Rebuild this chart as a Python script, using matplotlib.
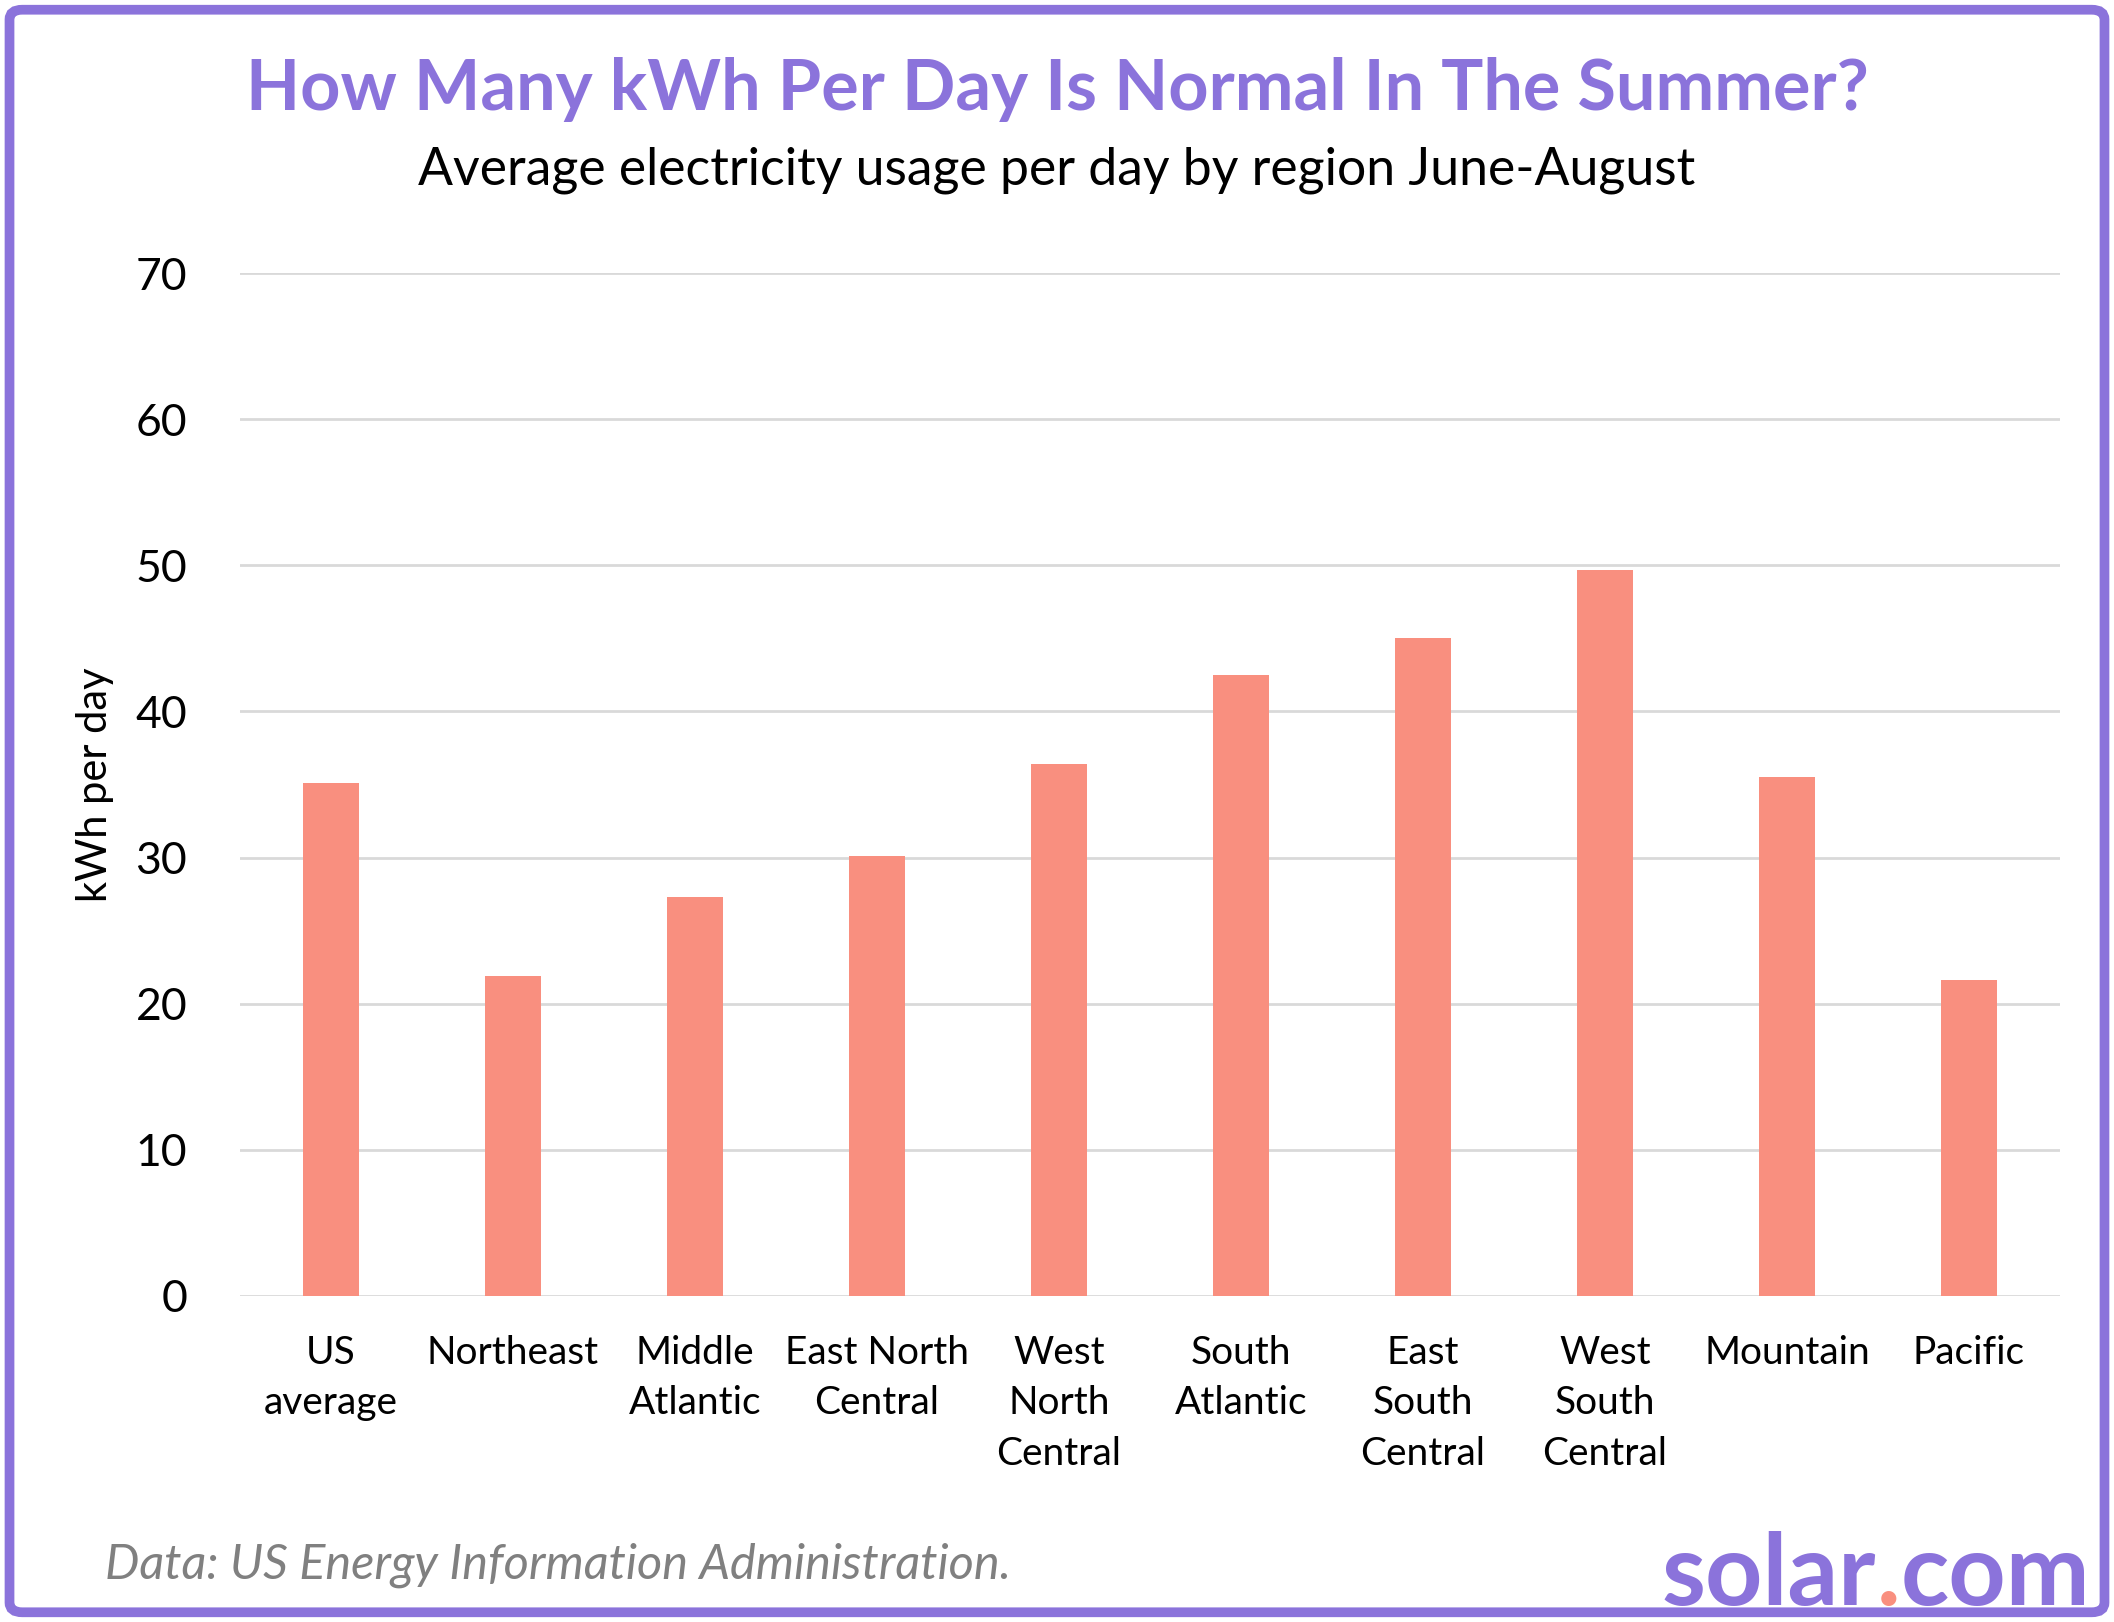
import matplotlib.pyplot as plt
from matplotlib.patches import FancyBboxPatch

# data (kWh per day, June-August)
regions = ["US\naverage", "Northeast", "Middle\nAtlantic", "East North\nCentral",
           "West\nNorth\nCentral", "South\nAtlantic", "East\nSouth\nCentral",
           "West\nSouth\nCentral", "Mountain", "Pacific"]
kwh = [35.1, 21.9, 27.3, 30.1, 36.4, 42.5, 45.0, 49.7, 35.5, 21.6]
yticks = [0, 10, 20, 30, 40, 50, 60, 70]

purple = "#8B73DB"
salmon = "#F98F7F"
font = "Lato"

fig = plt.figure(figsize=(21.14, 16.22), dpi=100)
ax = fig.add_axes([240 / 2114, 1 - 1296 / 1622, 1820 / 2114, 1023 / 1622])

ax.bar(range(len(regions)), kwh, width=0.31, color=salmon, zorder=3)
ax.set_xlim(-0.5, len(regions) - 0.5)
ax.set_ylim(0, 70)
ax.set_yticks(yticks)
ax.set_yticklabels([str(t) for t in yticks], fontsize=32, family=font)
ax.set_xticks(range(len(regions)))
ax.set_xticklabels(regions, fontsize=28, family=font, linespacing=1.5)
ax.tick_params(axis="both", length=0)
ax.tick_params(axis="y", pad=38)
ax.tick_params(axis="x", pad=28)
ax.yaxis.grid(True, color="#D9D9D9", linewidth=2, zorder=0)
ax.set_axisbelow(True)
for s in ax.spines.values():
    s.set_visible(False)
ax.set_ylabel("kWh per day", fontsize=30, family=font)
ax.yaxis.set_label_coords(-0.0695, 0.5)

# titles
fig.text(0.5, 1 - 110 / 1622, "How Many kWh Per Day Is Normal In The Summer?",
         ha="center", va="baseline", fontsize=50.6, fontweight="bold",
         color=purple, family=font)
fig.text(0.5, 1 - 185 / 1622, "Average electricity usage per day by region June-August",
         ha="center", va="baseline", fontsize=37.3, color="black", family=font)

# footer
fig.text(105 / 2114, 1 - 1579 / 1622, "Data: US Energy Information Administration.",
         ha="left", va="baseline", fontsize=35, style="italic", color="#808080",
         family=font)

# logo: solar.com with a salmon dot
fig.canvas.draw()
r = fig.canvas.get_renderer()
lx = 1662
ly = 1 - 1605 / 1622
t1 = fig.text(lx / 2114, ly, "solar", ha="left", va="baseline", fontsize=72,
              fontweight="bold", color=purple, family=font)
w1 = t1.get_window_extent(r).width
t2 = fig.text((lx + w1) / 2114, ly, ".", ha="left", va="baseline", fontsize=72,
              fontweight="bold", color=salmon, family=font)
w2 = t2.get_window_extent(r).width
fig.text((lx + w1 + w2) / 2114, ly, "com", ha="left", va="baseline", fontsize=72,
         fontweight="bold", color=purple, family=font)

# rounded purple frame
frame = FancyBboxPatch((0.0045, 0.006), 0.991, 0.988, boxstyle="round,pad=0,rounding_size=0.006",
                       transform=fig.transFigure, fill=False, edgecolor=purple,
                       linewidth=7, zorder=10)
fig.patches.append(frame)

fig.savefig("out.png", dpi=100)
